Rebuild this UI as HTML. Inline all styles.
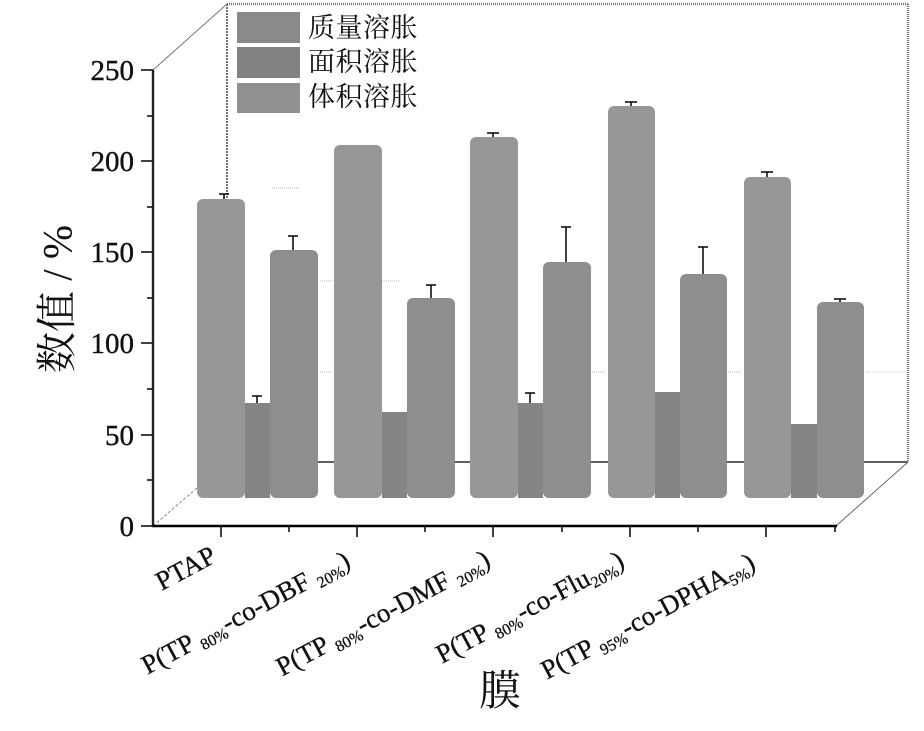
<!DOCTYPE html>
<html>
<head>
<meta charset="utf-8">
<style>
html,body{margin:0;padding:0;background:#fff;}
svg{display:block;}
.num{font-family:"Liberation Serif",serif;font-size:29px;fill:#111;stroke:#111;stroke-width:0.4;}
.lab{font-family:"Liberation Serif",serif;font-size:27px;fill:#111;stroke:#111;stroke-width:0.3;}
.cjk{font-family:"Liberation Serif","Noto Serif CJK SC",serif;fill:#111;}
</style>
</head>
<body>
<svg width="924" height="731" viewBox="0 0 924 731" xmlns="http://www.w3.org/2000/svg">
<rect width="924" height="731" fill="#fff"/>

<!-- back wall / 3D frame -->
<line x1="227" y1="4" x2="908" y2="4" stroke="#777" stroke-width="2.2" stroke-dasharray="1 1"/>
<line x1="227" y1="4" x2="227" y2="462" stroke="#444" stroke-width="1.5" stroke-dasharray="2 1"/>
<line x1="908" y1="4" x2="908" y2="462" stroke="#777" stroke-width="2.2" stroke-dasharray="1 1"/>
<line x1="153" y1="70" x2="227" y2="4" stroke="#777" stroke-width="1"/>
<line x1="227" y1="462" x2="908" y2="462" stroke="#000" stroke-width="1.3"/>
<line x1="153" y1="526" x2="227" y2="462" stroke="#888" stroke-width="1" stroke-dasharray="3 2"/>
<line x1="836" y1="526" x2="908" y2="462" stroke="#666" stroke-width="1"/>
<!-- faint grid traces -->
<line x1="272" y1="188" x2="300" y2="188" stroke="#bbb" stroke-width="1" stroke-dasharray="1 1"/>
<line x1="320" y1="281" x2="400" y2="281" stroke="#bbb" stroke-width="1" stroke-dasharray="1 1"/>
<line x1="320" y1="372" x2="333" y2="372" stroke="#bbb" stroke-width="1" stroke-dasharray="1 1"/>
<line x1="592" y1="372" x2="606" y2="372" stroke="#bbb" stroke-width="1" stroke-dasharray="1 1"/>
<line x1="728" y1="372" x2="742" y2="372" stroke="#bbb" stroke-width="1" stroke-dasharray="1 1"/>
<line x1="866" y1="372" x2="905" y2="372" stroke="#ccc" stroke-width="1" stroke-dasharray="1 1"/>

<!-- legend -->
<rect x="237" y="12" width="63" height="31" fill="#8a8a8a"/>
<rect x="237" y="47" width="63" height="31" fill="#828282"/>
<rect x="237" y="83" width="63" height="30" fill="#909090"/>
<text class="cjk" x="308" y="37" font-size="27" letter-spacing="0.5">质量溶胀</text>
<text class="cjk" x="308" y="71" font-size="27" letter-spacing="0.5">面积溶胀</text>
<text class="cjk" x="308" y="106" font-size="27" letter-spacing="0.5">体积溶胀</text>

<!-- bars -->
<g>
  <!-- G1 -->
  <rect x="197" y="199" width="48" height="299" rx="6" fill="#979797"/>
  <rect x="270" y="250" width="48" height="248" rx="6" fill="#8e8e8e"/>
  <rect x="245" y="403" width="25" height="95" fill="#858585"/>
  <!-- G2 -->
  <rect x="334" y="145" width="48" height="353" rx="6" fill="#979797"/>
  <rect x="407" y="298" width="48" height="200" rx="6" fill="#8e8e8e"/>
  <rect x="382" y="412" width="25" height="86" fill="#858585"/>
  <!-- G3 -->
  <rect x="470" y="137" width="48" height="361" rx="6" fill="#979797"/>
  <rect x="543" y="262" width="48" height="236" rx="6" fill="#8e8e8e"/>
  <rect x="518" y="403" width="25" height="95" fill="#858585"/>
  <!-- G4 -->
  <rect x="608" y="106" width="47" height="392" rx="6" fill="#979797"/>
  <rect x="680" y="274" width="47" height="224" rx="6" fill="#8e8e8e"/>
  <rect x="655" y="392" width="25" height="106" fill="#858585"/>
  <!-- G5 -->
  <rect x="744" y="177" width="47" height="321" rx="6" fill="#979797"/>
  <rect x="817" y="302" width="47" height="196" rx="6" fill="#8e8e8e"/>
  <rect x="791" y="424" width="26" height="74" fill="#858585"/>
</g>

<!-- error bars -->
<g stroke="#111" stroke-width="1.6">
  <line x1="224" y1="199" x2="224" y2="194"/><line x1="219" y1="194" x2="229" y2="194"/>
  <line x1="293" y1="250" x2="293" y2="236"/><line x1="288" y1="236" x2="298" y2="236"/>
  <line x1="257" y1="403" x2="257" y2="396"/><line x1="252" y1="396" x2="262" y2="396"/>
  <line x1="431" y1="298" x2="431" y2="285"/><line x1="426" y1="285" x2="436" y2="285"/>
  <line x1="493" y1="137" x2="493" y2="133"/><line x1="487" y1="133" x2="499" y2="133"/>
  <line x1="566" y1="262" x2="566" y2="227"/><line x1="561" y1="227" x2="571" y2="227"/>
  <line x1="530" y1="403" x2="530" y2="393"/><line x1="525" y1="393" x2="535" y2="393"/>
  <line x1="631" y1="106" x2="631" y2="102"/><line x1="625" y1="102" x2="637" y2="102"/>
  <line x1="703" y1="274" x2="703" y2="247"/><line x1="698" y1="247" x2="708" y2="247"/>
  <line x1="767" y1="177" x2="767" y2="172"/><line x1="761" y1="172" x2="773" y2="172"/>
  <line x1="840" y1="302" x2="840" y2="299"/><line x1="834" y1="299" x2="846" y2="299"/>
</g>

<!-- front axes -->
<line x1="153" y1="70" x2="153" y2="527" stroke="#222" stroke-width="2.4"/>
<line x1="152" y1="526" x2="837" y2="526" stroke="#000" stroke-width="2.5"/>
<g stroke="#111" stroke-width="1.6">
  <line x1="141" y1="70" x2="153" y2="70"/>
  <line x1="141" y1="161" x2="153" y2="161"/>
  <line x1="141" y1="252" x2="153" y2="252"/>
  <line x1="141" y1="343" x2="153" y2="343"/>
  <line x1="141" y1="435" x2="153" y2="435"/>
  <line x1="141" y1="526" x2="153" y2="526"/>
  <line x1="147" y1="116" x2="153" y2="116"/>
  <line x1="147" y1="207" x2="153" y2="207"/>
  <line x1="147" y1="298" x2="153" y2="298"/>
  <line x1="147" y1="389" x2="153" y2="389"/>
  <line x1="147" y1="480" x2="153" y2="480"/>
  <!-- x ticks -->
  <line x1="221" y1="526" x2="221" y2="537"/>
  <line x1="357" y1="526" x2="357" y2="537"/>
  <line x1="493" y1="526" x2="493" y2="537"/>
  <line x1="630" y1="526" x2="630" y2="537"/>
  <line x1="766" y1="526" x2="766" y2="537"/>
  <line x1="289" y1="526" x2="289" y2="532"/>
  <line x1="425" y1="526" x2="425" y2="532"/>
  <line x1="562" y1="526" x2="562" y2="532"/>
  <line x1="698" y1="526" x2="698" y2="532"/>
  <line x1="835" y1="526" x2="835" y2="532"/>
</g>

<!-- y tick labels -->
<g class="num" text-anchor="end">
  <text x="134" y="80">250</text>
  <text x="134" y="171">200</text>
  <text x="134" y="262">150</text>
  <text x="134" y="353">100</text>
  <text x="134" y="445">50</text>
  <text x="134" y="536">0</text>
</g>

<!-- y axis title -->
<text class="cjk" font-size="41" text-anchor="middle" transform="translate(71,299) rotate(-90)">数值 / %</text>

<!-- x tick labels -->
<g class="lab" text-anchor="end">
  <text transform="translate(218,561) rotate(-28)">PTAP</text>
  <text transform="translate(352,566) rotate(-28)">P(TP <tspan font-size="16" dy="5">80%</tspan><tspan dy="-5">-co-DBF </tspan><tspan font-size="16" dy="5">20%</tspan><tspan dy="-5">)</tspan></text>
  <text transform="translate(492,565) rotate(-28)">P(TP <tspan font-size="16" dy="5">80%</tspan><tspan dy="-5">-co-DMF </tspan><tspan font-size="16" dy="5">20%</tspan><tspan dy="-5">)</tspan></text>
  <text transform="translate(626,566) rotate(-28)">P(TP <tspan font-size="16" dy="5">80%</tspan><tspan dy="-5">-co-Flu</tspan><tspan font-size="16" dy="5">20%</tspan><tspan dy="-5">)</tspan></text>
  <text transform="translate(757,568) rotate(-28)">P(TP <tspan font-size="16" dy="5">95%</tspan><tspan dy="-5">-co-DPHA</tspan><tspan font-size="16" dy="5">5%</tspan><tspan dy="-5">)</tspan></text>
</g>

<!-- x axis title -->
<text class="cjk" x="500" y="705" font-size="42" text-anchor="middle">膜</text>
</svg>
</body>
</html>
